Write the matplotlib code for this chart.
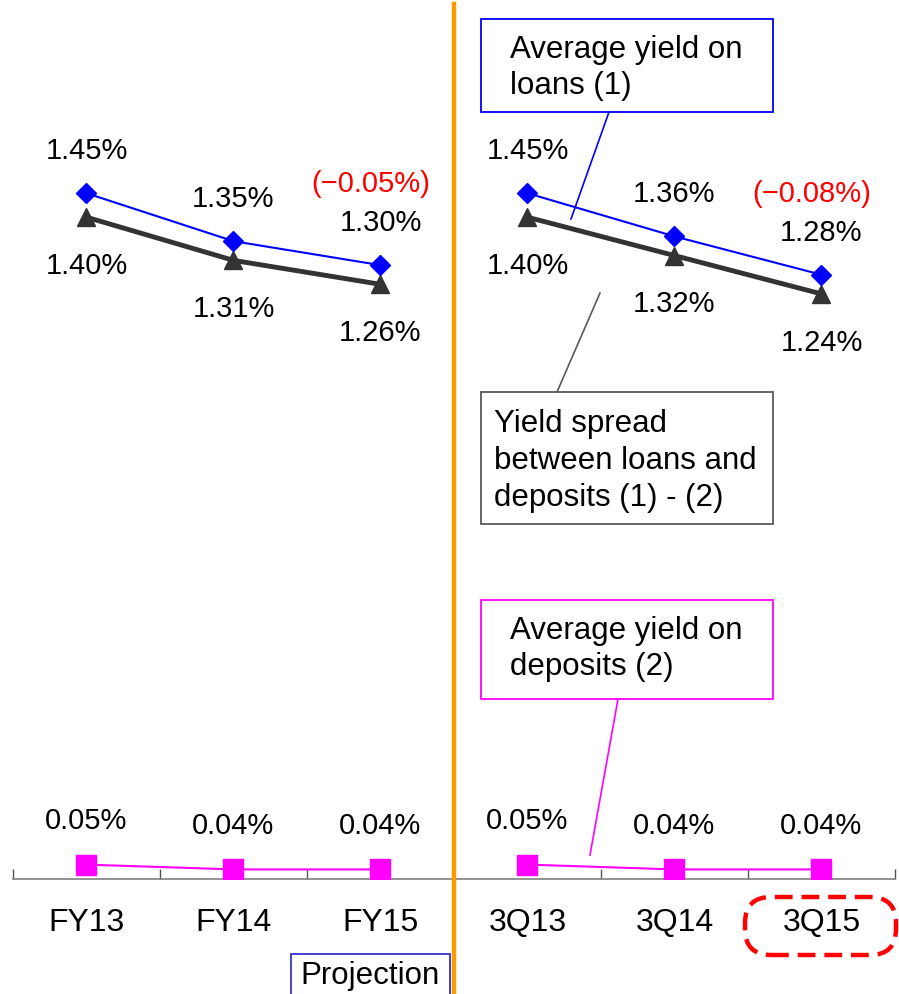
import matplotlib
matplotlib.use("Agg")
import matplotlib.pyplot as plt
from matplotlib.patches import Rectangle, FancyBboxPatch
from matplotlib.lines import Line2D
from matplotlib.transforms import IdentityTransform

categories = ["FY13", "FY14", "FY15", "3Q13", "3Q14", "3Q15"]
loans = [1.45, 1.35, 1.30, 1.45, 1.36, 1.28]
spread = [1.40, 1.31, 1.26, 1.40, 1.32, 1.24]
deposits = [0.05, 0.04, 0.04, 0.05, 0.04, 0.04]
change_idx = [2, 5]
change_text = ["(\u22120.05%)", "(\u22120.08%)"]

W, H = 899, 995
fig = plt.figure(figsize=(W / 100, H / 100), dpi=100)
fig.patch.set_facecolor("white")

def fx(x):
    return x / W

def fy(y):
    return 1 - y / H

ax = fig.add_axes([fx(13), 115 / H, 882 / W, 880 / H])
ax.set_xlim(-0.5, 5.5)
ax.set_ylim(0.02, 1.855)
for s in ["top", "right", "left"]:
    ax.spines[s].set_visible(False)
ax.spines["bottom"].set_color("#808080")
ax.spines["bottom"].set_linewidth(1.2)
ax.set_yticks([])
xs = list(range(len(categories)))
ax.set_xticks(xs)
ax.set_xticklabels(categories, fontsize=23, family="Liberation Sans")
ax.tick_params(axis="x", which="major", length=0, pad=20)
ax.set_xticks([i - 0.5 for i in range(len(categories) + 1)], minor=True)
ax.tick_params(axis="x", which="minor", direction="in", length=7.5, color="#555555", width=1)

numfont = dict(family="Liberation Sans", fontsize=21)

for seg in (slice(0, 3), slice(3, 6)):
    xx = xs[seg]
    ax.plot(xx, deposits[seg], color="#FF00FF", lw=1.5, marker="s", ms=14,
            mfc="#FF00FF", mec="#FF00FF", zorder=3)
    ax.plot(xx, spread[seg], color="#333333", lw=3.5, marker="^", ms=13.5,
            mfc="#333333", mec="#333333", zorder=3)
    ax.plot(xx, loans[seg], color="#0000FF", lw=1.5, marker="D", ms=10.5,
            mfc="#0000FF", mec="#0000FF", zorder=4)

for i in xs:
    ax.annotate(f"{loans[i]:.2f}%", (i, loans[i]), xytext=(0, 31),
                textcoords="offset points", ha="center", va="center", **numfont)
    ax.annotate(f"{spread[i]:.2f}%", (i, spread[i]), xytext=(0, -34.5),
                textcoords="offset points", ha="center", va="center", **numfont)
    ax.annotate(f"{deposits[i]:.2f}%", (i, deposits[i]), xytext=(0, 32),
                textcoords="offset points", ha="center", va="center", **numfont)
for i, t in zip(change_idx, change_text):
    ax.annotate(t, (i, loans[i]), xytext=(-7, 59), textcoords="offset points",
                ha="center", va="center", color="#FF0000", **numfont)

# orange divider
fig.add_artist(Line2D([fx(454), fx(454)], [fy(995), fy(5)], color="#FF9900", lw=3.2))

boxfont = dict(family="Liberation Sans", fontsize=22.5)

def box(x0, y0, x1, y1, ec, lw=1.3):
    fig.add_artist(Rectangle((fx(x0), fy(y1)), fx(x1) - fx(x0), fy(y0) - fy(y1),
                             transform=fig.transFigure, fill=True, fc="white",
                             ec=ec, lw=lw, zorder=5))

def leader(x0, y0, x1, y1, c):
    fig.add_artist(Line2D([fx(x0), fx(x1)], [fy(y0), fy(y1)], color=c, lw=1.2, zorder=5))

LS = 1.3

# loans box
box(481, 20, 773, 113, "#0000FF")
leader(609, 113, 571, 220, "#0000FF")
fig.text(fx(510), fy(68), "Average yield on\nloans (1)", ha="left", va="center",
         linespacing=LS, zorder=6, **boxfont)

# spread box
box(481, 393, 773, 525, "#595959")
leader(600, 294, 557, 393, "#595959")
fig.text(fx(494), fy(461), "Yield spread\nbetween loans and\ndeposits (1) - (2)",
         ha="left", va="center", linespacing=LS, zorder=6, **boxfont)

# deposits box
box(481, 601, 773, 700, "#FF00FF")
leader(618, 700, 590, 856, "#FF00FF")
fig.text(fx(510), fy(649), "Average yield on\ndeposits (2)", ha="left", va="center",
         linespacing=LS, zorder=6, **boxfont)

# projection box
box(291, 955, 450, 1005, "#3333CC")
fig.text(fx(370), fy(976), "Projection", ha="center", va="center", zorder=6, **boxfont)

# red dashed rounded box around 3Q15
fig.add_artist(FancyBboxPatch((745, H - 956), 151, 58,
                              boxstyle="round,pad=0,rounding_size=26",
                              transform=IdentityTransform(), fill=False,
                              ec="#FF0000", lw=3.2, linestyle=(0, (4, 2)), zorder=6))

fig.savefig("out.png", dpi=100)
